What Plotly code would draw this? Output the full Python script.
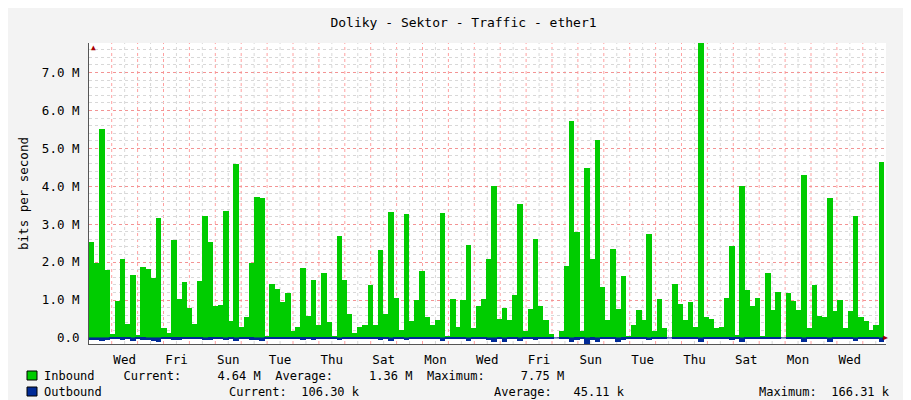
import plotly.graph_objects as go

inbound = [2.53,1.98,5.51,1.79,0.11,0.98,2.08,0.38,1.66,0.09,1.87,1.83,1.58,3.17,0.27,0.14,2.59,1.04,1.48,0.79,
           0.38,1.50,3.21,2.53,0.83,0.87,3.35,0.45,4.59,0.29,0.55,1.98,3.72,3.69,0.06,1.42,1.29,0.95,1.19,0.19,
           0.30,1.85,0.59,1.53,0.35,1.72,0.42,0.06,2.69,1.53,0.62,0.14,0.30,0.35,1.40,0.35,2.32,0.64,3.32,1.06,
           0.22,3.27,0.46,0.99,1.77,0.54,0.33,0.48,3.30,0.04,1.03,0.30,1.00,2.45,0.27,0.85,1.03,2.09,4.01,
           0.50,0.79,0.47,1.14,3.54,0.17,0.77,2.61,0.85,0.47,0.11,0.00,0.17,1.90,5.73,2.80,0.17,4.49,2.07,5.22,
           1.35,0.47,2.35,0.77,1.64,0.06,0.35,0.74,0.47,2.74,0.17,1.03,0.25,0.00,1.42,0.90,0.47,0.95,0.30,
           7.77,0.54,0.50,0.27,0.30,1.06,2.43,0.09,4.01,1.27,0.85,1.06,0.06,1.72,0.74,1.21,0.00,1.19,0.98,0.74,
           4.30,0.25,1.40,0.59,0.56,3.69,0.71,1.00,0.27,0.71,3.22,0.55,0.45,0.22,0.33,4.64]
outbound = [0.06,0.06,0.07,0.06,0.02,0.03,0.05,0.03,0.09,0.02,0.05,0.06,0.08,0.12,0.03,0.02,0.05,0.05,0.04,0.03,
            0.03,0.04,0.06,0.05,0.03,0.04,0.06,0.03,0.08,0.02,0.03,0.05,0.06,0.08,0.02,0.04,0.04,0.03,0.04,0.02,
            0.03,0.05,0.03,0.05,0.03,0.04,0.03,0.02,0.06,0.04,0.03,0.02,0.03,0.03,0.04,0.03,0.05,0.03,0.08,0.04,
            0.02,0.06,0.03,0.04,0.04,0.03,0.03,0.03,0.08,0.02,0.04,0.03,0.04,0.08,0.03,0.03,0.04,0.06,0.10,
            0.04,0.10,0.03,0.04,0.09,0.02,0.03,0.05,0.04,0.03,0.02,0.00,0.02,0.04,0.11,0.05,0.02,0.17,0.05,0.11,
            0.04,0.03,0.04,0.10,0.05,0.02,0.03,0.04,0.03,0.06,0.02,0.04,0.03,0.00,0.04,0.04,0.03,0.04,0.03,
            0.12,0.03,0.03,0.02,0.03,0.04,0.05,0.02,0.10,0.04,0.04,0.04,0.02,0.04,0.03,0.04,0.00,0.04,0.03,0.03,
            0.10,0.03,0.04,0.03,0.03,0.12,0.04,0.04,0.03,0.04,0.07,0.04,0.03,0.02,0.03,0.11]
day_labels = ["Wed","Fri","Sun","Tue","Thu","Sat","Mon","Wed","Fri","Sun","Tue","Thu","Sat","Mon","Wed"]
y_ticks = [0,1,2,3,4,5,6,7]
y_tick_text = ["0.0","1.0 M","2.0 M","3.0 M","4.0 M","5.0 M","6.0 M","7.0 M"]

DAY = 25.9
x0 = (81 - 103.7) / DAY
x1 = (878 - 103.7) / DAY
w = (876 - 81) / len(inbound) / DAY
xs = [x0 + (i + 0.5) * w for i in range(len(inbound))]
font = "DejaVu Sans Mono"

fig = go.Figure()
fig.add_bar(x=xs, y=inbound, width=w * 1.08, marker=dict(color="#00CC00", line=dict(width=0)))
fig.add_bar(x=xs, y=[-v for v in outbound], width=w * 1.08, marker=dict(color="#002A97", line=dict(width=0)))

ytop, ybot = 7.78, -0.16
fig.update_layout(
    width=911, height=400, barmode="overlay", bargap=0, showlegend=False,
    paper_bgcolor="#f3f3f3", plot_bgcolor="white",
    margin=dict(l=81, r=33, t=35, b=64, autoexpand=False),
    font=dict(family=font, size=12, color="#000"),
    title=dict(text="Doliky - Sektor - Traffic - ether1", x=0.5, xanchor="center", y=0.965, yanchor="middle",
               font=dict(size=13)),
    xaxis=dict(range=[x0, x1], tickvals=[0.5 + 2 * i for i in range(len(day_labels))], ticktext=day_labels,
               ticks="", showgrid=False, zeroline=False, showline=True, linecolor="#555", ticklabelstandoff=4,
               automargin=False, tickfont=dict(size=12.5)),
    yaxis=dict(range=[ybot, ytop], tickvals=y_ticks, ticktext=y_tick_text, showgrid=True,
               gridcolor="rgba(255,120,120,0.7)", griddash="dot", gridwidth=1,
               minor=dict(dtick=0.2, showgrid=True, gridcolor="#d8d8d8", griddash="dot"),
               zeroline=False, showline=True, linecolor="#555", ticks="", ticklabelstandoff=6,
               automargin=False, tickfont=dict(size=12.5),
               title=dict(text="bits per second", standoff=10, font=dict(size=12.5))),
)
for d in range(0, 30):
    fig.add_vline(x=d, line=dict(color="rgba(255,120,120,0.7)", width=1, dash="dot"), layer="below")
    fig.add_vline(x=d + 0.5, line=dict(color="#d8d8d8", width=1, dash="dot"), layer="below")
fig.add_hline(y=0, line=dict(color="#002A97", width=1))

def px(x): return (x - 81) / 797
def py(y): return (336 - y) / 301
def ann(x, y, t, anchor="left", size=12, color="#000", **k):
    fig.add_annotation(x=px(x), y=py(y), xref="paper", yref="paper", text=t, showarrow=False,
                       xanchor=anchor, yanchor="middle", font=dict(size=size, color=color, family=font), **k)

ann(34, 368, "Inbound    Current:     4.64 M  Average:     1.36 M  Maximum:     7.75 M")
ann(34, 384, "Outbound")
ann(219, 384, "Current:  106.30 k")
ann(484, 384, "Average:   45.11 k")
ann(749, 384, "Maximum:  166.31 k")
ann(899, 60, "RRDTOOL / TOBI OETIKER", anchor="center", size=8, color="#aaa", textangle=90)
for yy, c in [(368, "#00CC00"), (384, "#002A97")]:
    fig.add_shape(type="rect", xref="paper", yref="paper", x0=px(19), x1=px(29), y0=py(yy - 5), y1=py(yy + 4),
                  fillcolor=c, line=dict(color="#000", width=1))
fig.add_annotation(x=px(81), y=py(33), xref="paper", yref="paper", text="▲", showarrow=False,
                   font=dict(size=8, color="#a00"))
fig.add_annotation(x=px(882), y=py(336), xref="paper", yref="paper", text="▶", showarrow=False,
                   font=dict(size=8, color="#a00"))
fig.write_html("out.html")
